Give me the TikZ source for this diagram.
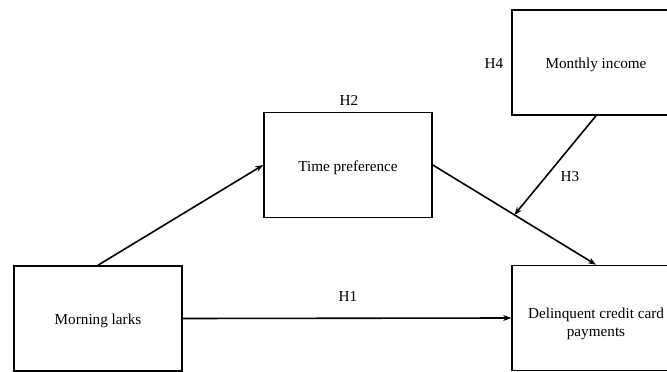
\documentclass[tikz,border=0pt]{standalone}
\usepackage{fontspec}
\setmainfont{Liberation Serif}
\usetikzlibrary{arrows.meta,calc}
\begin{document}
\begin{tikzpicture}[x=1pt,y=-1pt,
  box/.style={draw,line width=1.6pt,minimum width=168pt,minimum height=105pt,inner sep=0pt,align=center,text height=16pt,text depth=4pt,font=\fontsize{15.2}{18}\selectfont},
  lab/.style={font=\fontsize{15.2}{18}\selectfont,inner sep=0pt},
  arr/.style={line width=1.6pt,-{Stealth[length=8pt,width=6pt]}}]
\useasboundingbox (0,0) rectangle (667,372);
\clip (0,0) rectangle (667,372);
\node[box] (ML) at (98,318.5) {Morning larks};
\node[box] (TP) at (348,165) {Time preference};
\node[box] (MI) at (596,62.5) {Monthly income};
\node[box,text height=40pt,text depth=3pt] (DEL) at (596,318) {Delinquent credit card\\payments};
\coordinate (h3end) at ($(TP.east)!0.5!(DEL.north)$);
\draw[arr] (ML.north) -- (TP.west);
\draw[arr] (TP.east) -- (DEL.north);
\draw[arr] (MI.south) -- (h3end);
\draw[arr] (ML.east) -- (DEL.west);
\node[lab] (H2) at (349,100) {H2};
\node[lab] (H4) at (494,63) {H4};
\node[lab] (H3) at (570,177) {H3};
\node[lab] (H1) at (348,296) {H1};
\end{tikzpicture}
\end{document}
